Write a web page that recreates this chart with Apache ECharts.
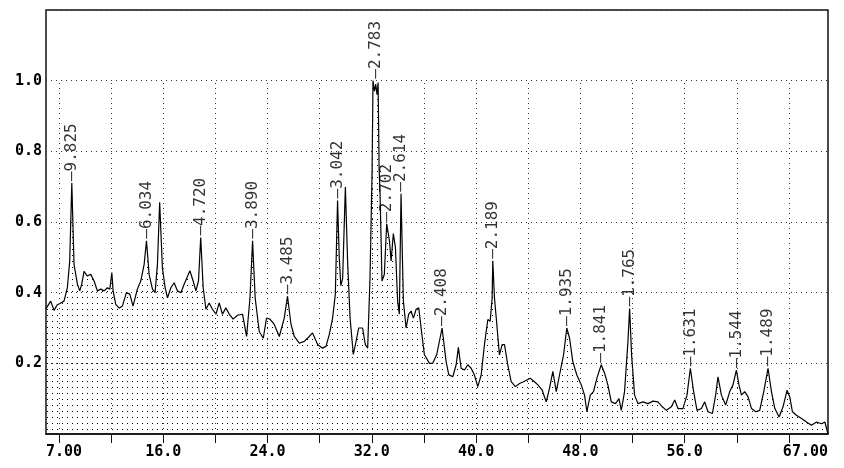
<!DOCTYPE html>
<html>
<head>
<meta charset="utf-8">
<script src="https://cdn.jsdelivr.net/npm/echarts@6/dist/echarts.min.js"></script>
<style>
html, body { margin: 0; padding: 0; background: #fff; }
#main { width: 844px; height: 468px; }
</style>
</head>
<body>
<div id="main"></div>
<script>
// XRD scan (2-theta / relative intensity)
const twoTheta = [
  7.00, 7.36, 7.62, 7.85, 8.13, 8.38, 8.64, 8.82, 8.98, 9.15, 9.41, 9.59, 9.74, 9.92,
  10.17, 10.43, 10.69, 10.94, 11.20, 11.46, 11.71, 11.90, 12.05, 12.15, 12.35, 12.61, 12.86,
  13.17, 13.43, 13.68, 14.01, 14.27, 14.53, 14.71, 14.91, 15.17, 15.37, 15.55, 15.72, 15.93,
  16.14, 16.32, 16.58, 16.83, 17.09, 17.35, 17.60, 18.04, 18.29, 18.50, 18.70, 18.87, 19.06,
  19.27, 19.52, 19.77, 20.04, 20.29, 20.54, 20.80, 21.06, 21.36, 21.69, 22.08, 22.39, 22.65,
  22.85, 23.05, 23.36, 23.67, 23.92, 24.18, 24.51, 24.90, 25.28, 25.53, 25.80, 26.05, 26.43,
  26.82, 27.07, 27.45, 27.84, 28.22, 28.48, 28.74, 28.99, 29.20, 29.37, 29.50, 29.62, 29.76,
  29.97, 30.14, 30.33, 30.58, 30.79, 30.99, 31.29, 31.50, 31.68, 31.86, 32.02, 32.09, 32.20,
  32.30, 32.40, 32.48, 32.56, 32.63, 32.78, 32.96, 33.14, 33.35, 33.48, 33.65, 33.81, 33.98,
  34.11, 34.24, 34.42, 34.63, 34.83, 35.01, 35.19, 35.40, 35.60, 35.78, 36.03, 36.42, 36.67,
  36.98, 37.39, 37.70, 37.90, 38.21, 38.47, 38.64, 38.85, 39.11, 39.36, 39.62, 39.87, 40.13,
  40.39, 40.64, 40.90, 41.08, 41.23, 41.28, 41.41, 41.59, 41.79, 42.00, 42.18, 42.43, 42.69,
  43.02, 43.33, 43.64, 43.89, 44.15, 44.48, 44.74, 45.07, 45.38, 45.63, 45.89, 46.15, 46.40,
  46.71, 46.96, 47.17, 47.42, 47.73, 48.07, 48.32, 48.50, 48.76, 49.01, 49.27, 49.60, 49.86,
  50.11, 50.37, 50.70, 50.96, 51.14, 51.39, 51.65, 51.78, 51.93, 52.16, 52.42, 52.80, 53.19,
  53.57, 53.95, 54.29, 54.60, 54.98, 55.24, 55.49, 55.87, 56.18, 56.44, 56.69, 56.95, 57.29,
  57.54, 57.79, 58.13, 58.38, 58.56, 58.82, 59.15, 59.46, 59.71, 59.97, 60.17, 60.36, 60.61,
  60.87, 61.13, 61.46, 61.76, 62.07, 62.40, 62.66, 62.92, 63.25, 63.55, 63.86, 64.07, 64.27,
  64.58, 64.97, 65.35, 65.73, 66.12, 66.50, 66.76, 67.00
];
const intensity = [
  0.355, 0.376, 0.350, 0.365, 0.371, 0.376, 0.414, 0.490, 0.710, 0.480, 0.424, 0.405, 0.424, 0.460,
  0.447, 0.452, 0.433, 0.405, 0.410, 0.405, 0.414, 0.410, 0.457, 0.405, 0.367, 0.356, 0.362,
  0.400, 0.396, 0.362, 0.410, 0.433, 0.480, 0.547, 0.452, 0.410, 0.400, 0.480, 0.656, 0.471,
  0.414, 0.385, 0.414, 0.428, 0.405, 0.400, 0.424, 0.462, 0.433, 0.405, 0.433, 0.556, 0.414,
  0.353, 0.371, 0.353, 0.339, 0.371, 0.339, 0.357, 0.339, 0.325, 0.336, 0.339, 0.276, 0.385,
  0.547, 0.385, 0.290, 0.271, 0.328, 0.325, 0.310, 0.276, 0.328, 0.390, 0.310, 0.276, 0.257,
  0.262, 0.271, 0.286, 0.253, 0.243, 0.248, 0.282, 0.328, 0.396, 0.661, 0.500, 0.420, 0.440,
  0.699, 0.490, 0.328, 0.225, 0.262, 0.300, 0.300, 0.253, 0.243, 0.442, 0.746, 1.000, 0.970,
  0.990, 0.960, 0.995, 0.750, 0.680, 0.433, 0.452, 0.595, 0.547, 0.490, 0.567, 0.528, 0.376,
  0.339, 0.680, 0.376, 0.300, 0.339, 0.348, 0.328, 0.353, 0.357, 0.300, 0.225, 0.200, 0.200,
  0.225, 0.300, 0.205, 0.168, 0.162, 0.196, 0.245, 0.186, 0.181, 0.196, 0.186, 0.167, 0.134,
  0.167, 0.253, 0.324, 0.319, 0.385, 0.490, 0.385, 0.310, 0.224, 0.253, 0.253, 0.196, 0.148,
  0.134, 0.143, 0.148, 0.153, 0.158, 0.148, 0.139, 0.124, 0.091, 0.129, 0.177, 0.120, 0.167,
  0.224, 0.300, 0.271, 0.205, 0.167, 0.139, 0.110, 0.063, 0.110, 0.120, 0.158, 0.196, 0.172,
  0.139, 0.091, 0.086, 0.100, 0.067, 0.120, 0.262, 0.355, 0.224, 0.110, 0.086, 0.091, 0.086,
  0.093, 0.091, 0.077, 0.067, 0.077, 0.096, 0.072, 0.072, 0.110, 0.186, 0.120, 0.067, 0.072,
  0.091, 0.063, 0.058, 0.110, 0.162, 0.110, 0.082, 0.120, 0.139, 0.181, 0.139, 0.110, 0.120,
  0.105, 0.072, 0.063, 0.067, 0.120, 0.186, 0.120, 0.072, 0.048, 0.077, 0.124, 0.105, 0.063,
  0.053, 0.044, 0.034, 0.025, 0.034, 0.029, 0.034, 0.000
];

// labelled peaks: position, height, d-spacing text
const peakPos = [8.98, 14.71, 18.87, 22.85, 25.53, 29.37, 32.28, 33.14, 34.24, 37.39, 41.28, 46.96, 49.60, 51.78, 56.44, 59.97, 62.40];
const peakInt = [0.710, 0.547, 0.556, 0.547, 0.390, 0.661, 1.000, 0.595, 0.680, 0.300, 0.490, 0.300, 0.196, 0.355, 0.186, 0.181, 0.186];
const peakLabels = ['9.825', '6.034', '4.720', '3.890', '3.485', '3.042', '2.783', '2.702', '2.614', '2.408', '2.189', '1.935', '1.841', '1.765', '1.631', '1.544', '1.489'];

const xTickValues = [8, 12, 16, 20, 24, 28, 32, 36, 40, 44, 48, 52, 56, 60, 64];
const xLabelValues = [7, 16, 24, 32, 40, 48, 56, 67];

// stipple pattern for the area under the scan
const dots = document.createElement('canvas');
dots.width = 5;
dots.height = 6;
const dctx = dots.getContext('2d');
dctx.fillStyle = '#000';
dctx.fillRect(2, 3, 1, 1);

const monoFont = '"DejaVu Sans Mono", "Liberation Mono", monospace';

var myChart = echarts.init(document.getElementById('main'));

var option = {
  animation: false,
  backgroundColor: '#fff',
  grid: {
    left: 46,
    right: 16,
    top: 10,
    bottom: 34,
    show: true,
    borderColor: '#111',
    borderWidth: 1.5,
    outerBoundsMode: 'none'
  },
  xAxis: {
    type: 'value',
    min: 7,
    max: 67,
    axisLine: { show: true, lineStyle: { color: '#111', width: 1.5 } },
    axisTick: {
      show: true,
      customValues: xTickValues,
      length: 9,
      lineStyle: { color: '#111', width: 1 }
    },
    axisLabel: {
      customValues: xLabelValues,
      margin: 11,
      color: '#000',
      fontFamily: monoFont,
      fontWeight: 'bold',
      fontSize: 15,
      alignMinLabel: 'left',
      alignMaxLabel: 'right',
      formatter: (v) => (v === 7 || v === 67) ? v.toFixed(2) : v.toFixed(1)
    },
    splitLine: { show: false }
  },
  yAxis: {
    type: 'value',
    min: 0,
    max: 1.2,
    interval: 0.2,
    axisLine: { show: false },
    axisTick: { show: false },
    axisLabel: {
      margin: 4,
      color: '#000',
      fontFamily: monoFont,
      fontWeight: 'bold',
      fontSize: 15,
      formatter: (v) => (v < 0.1 || v > 1.1) ? '' : v.toFixed(1)
    },
    splitLine: {
      show: true,
      lineStyle: { color: '#333', width: 1, type: [1, 4] }
    }
  },
  series: [
    {
      type: 'line',
      data: twoTheta.map((t, i) => [t, intensity[i]]),
      symbol: 'none',
      lineStyle: { color: '#000', width: 1.2 },
      areaStyle: { color: { image: dots, repeat: 'repeat' }, opacity: 1 },
      markLine: {
        silent: true,
        symbol: 'none',
        label: { show: false },
        lineStyle: { color: '#333', width: 1, type: [1, 4] },
        data: xTickValues.map(v => [{ coord: [v, 0] }, { coord: [v, 1.0] }])
      }
    },
    {
      type: 'scatter',
      data: peakPos.map((t, i) => ({ value: [t, peakInt[i]], name: peakLabels[i] })),
      symbolSize: 2,
      itemStyle: { color: 'rgba(0,0,0,0)' },
      labelLayout: { hideOverlap: false },
      label: {
        show: true,
        position: 'top',
        distance: 1,
        rotate: 90,
        align: 'left',
        verticalAlign: 'middle',
        color: '#000',
        fontFamily: monoFont,
        fontSize: 16,
        formatter: '\u2014{b}'
      },
      z: 5
    }
  ]
};

myChart.setOption(option);
window.addEventListener('resize', () => {
  myChart.resize()
})
</script>
</body>
</html>
